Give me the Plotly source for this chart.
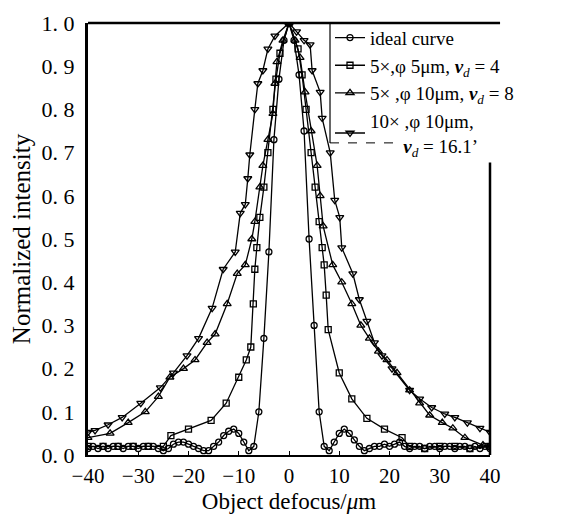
import plotly.graph_objects as go

# ideal curve (circles)
x_ideal = list(range(-40, 41))
y_ideal = [0.015, 0.02, 0.015, 0.02, 0.015, 0.02, 0.02, 0.015, 0.02, 0.02,
           0.015, 0.02, 0.02, 0.02, 0.015, 0.01, 0.015, 0.025, 0.03, 0.03,
           0.025, 0.02, 0.015, 0.01, 0.01, 0.02, 0.03, 0.045, 0.055, 0.06,
           0.05, 0.03, 0.01, 0.02, 0.10, 0.27, 0.47, 0.73, 0.87, 0.96,
           1.0,
           0.96, 0.88, 0.75, 0.50, 0.30, 0.10, 0.02, 0.01, 0.03, 0.05,
           0.06, 0.05, 0.035, 0.02, 0.01, 0.015, 0.02, 0.02, 0.025, 0.02,
           0.025, 0.03, 0.02, 0.015, 0.02, 0.02, 0.015, 0.02, 0.02, 0.015,
           0.02, 0.02, 0.015, 0.02, 0.02, 0.015, 0.02, 0.015, 0.02, 0.015]

# 5x, phi 5um, vd=4 (squares)
x_sq = [-40, -37, -34, -31, -28, -25, -23.5, -20, -15.5, -12.5, -10, -8.5, -7.6, -7.1, -6.8,
        -6.4, -5.8, -5, -4.2, -3.2, -2.6, -1.8, 0,
        1.8, 2.6, 3.4, 4.4, 5.2, 6, 6.6, 7, 7.4, 7.8, 10, 12.5, 15.5, 19, 22.5, 24, 27,
        30, 33, 36, 40]
y_sq = [0.02, 0.02, 0.02, 0.02, 0.02, 0.02, 0.045, 0.06, 0.08, 0.12, 0.18, 0.22, 0.25, 0.35, 0.43,
        0.48, 0.55, 0.62, 0.70, 0.80, 0.87, 0.93, 1.0,
        0.94, 0.88, 0.80, 0.70, 0.62, 0.54, 0.48, 0.44, 0.37, 0.29, 0.19, 0.13, 0.085, 0.06, 0.04, 0.02, 0.015,
        0.02, 0.02, 0.015, 0.02]

# 5x, phi 10um, vd=8 (triangles up)
x_tu = [-40, -35.6, -32, -28.6, -26, -23.7, -21, -18.7, -16.3, -14.7, -12.3, -10.3, -8.7, -7.4,
        -6.8, -5.8, -5.2, -4.2, -3.2, -2.8, -2.4, -1.2, 0,
        1.2, 2.2, 3.2, 4.4, 5.6, 6.2, 6.8, 8.7, 10.5, 12.5, 14.3, 16, 17.8, 19.5, 21.5, 24, 26,
        28, 30.5, 32.6, 35, 38.6, 40]
y_tu = [0.04, 0.05, 0.075, 0.10, 0.135, 0.18, 0.20, 0.22, 0.26, 0.28, 0.35, 0.42, 0.44, 0.50,
        0.54, 0.62, 0.67, 0.73, 0.79, 0.86, 0.91, 0.96, 1.0,
        0.96, 0.92, 0.84, 0.75, 0.67, 0.60, 0.53, 0.44, 0.40, 0.35, 0.30, 0.27, 0.24, 0.22, 0.19, 0.15, 0.12,
        0.092, 0.075, 0.062, 0.04, 0.023, 0.02]

# 10x, phi 10um, vd=16.1 (triangles down)
x_td = [-40, -38.6, -36, -33.2, -29.5, -25.6, -23, -20.3, -18, -15.3, -13.1, -10.7, -9.7, -8.7,
        -8.2, -7.8, -6.8, -6.2, -5.2, -4.2, -2.8, 0,
        1.5, 3, 4.2, 4.6, 6.2, 6.6, 8.2, 9.1, 10.1, 10.5, 12.7, 14, 15.5, 17, 18.5, 20.5, 24, 26,
        28.4, 31, 33, 35.5, 38, 40]
y_td = [0.053, 0.057, 0.07, 0.087, 0.12, 0.156, 0.19, 0.23, 0.27, 0.34, 0.43, 0.47, 0.56, 0.58,
        0.64, 0.695, 0.80, 0.86, 0.89, 0.94, 0.97, 1.0,
        0.98, 0.96, 0.95, 0.89, 0.84, 0.78, 0.70, 0.59, 0.55, 0.48, 0.42, 0.36, 0.31, 0.26, 0.23, 0.20, 0.15, 0.13,
        0.11, 0.095, 0.087, 0.075, 0.062, 0.053]

x_ticks = [-40, -30, -20, -10, 0, 10, 20, 30, 40]
x_labels = ['\u221240', '\u221230', '\u221220', '\u221210', '0', '10', '20', '30', '40']
y_ticks = [0.0, 0.1, 0.2, 0.3, 0.4, 0.5, 0.6, 0.7, 0.8, 0.9, 1.0]
y_labels = ['0. 0', '0. 1', '0. 2', '0. 3', '0. 4', '0. 5', '0. 6', '0. 7', '0. 8', '0. 9', '1. 0']

vd = '<b><i>v</i></b><sub><i>d</i></sub>'
names = ['ideal curve',
         '5\u00d7,\u03c6 5\u03bcm, ' + vd + ' = 4',
         '5\u00d7 ,\u03c6 10\u03bcm, ' + vd + ' = 8',
         '10\u00d7 ,\u03c6 10\u03bcm,<br>\u00a0\u00a0\u00a0\u00a0\u00a0\u00a0\u00a0' + vd + ' = 16.1\u2019']

serif = 'Liberation Serif, Times New Roman, serif'

fig = go.Figure()
series = [(x_ideal, y_ideal, 'circle-open', 6),
          (x_sq, y_sq, 'square-open', 6),
          (x_tu, y_tu, 'triangle-up-open', 7),
          (x_td, y_td, 'triangle-down-open', 7)]
for (xs, ys, sym, sz), nm in zip(series, names):
    fig.add_trace(go.Scatter(x=xs, y=ys, name=nm, mode='lines+markers',
                             line=dict(color='black', width=1.3),
                             marker=dict(symbol=sym, size=sz, color='black',
                                         line=dict(width=1.3, color='black'))))

# top border, partial right border, legend frame
fig.add_shape(type='line', xref='paper', yref='paper', x0=0, x1=1.025, y0=1, y1=1,
              line=dict(color='black', width=2.5))
fig.add_shape(type='line', xref='paper', yref='paper', x0=1, x1=1, y0=0, y1=0.677,
              line=dict(color='black', width=2.5))
fig.add_shape(type='line', xref='paper', yref='paper', x0=0.602, x1=0.602, y0=1, y1=0.7225,
              line=dict(color='black', width=1.2))
fig.add_shape(type='line', xref='paper', yref='paper', x0=0.602, x1=0.764, y0=0.7225, y1=0.7225,
              line=dict(color='black', width=1, dash='dash'))

# page body adds an 8px offset at top-left, so the figure is 8px smaller than the window
fig.update_layout(
    width=576, height=508,
    margin=dict(l=80, r=94, t=11, b=61),
    plot_bgcolor='white', paper_bgcolor='white',
    font=dict(family=serif, color='black', size=18),
    showlegend=True,
    legend=dict(x=0.602, y=1.01, xanchor='left', yanchor='top',
                bgcolor='rgba(0,0,0,0)', borderwidth=0,
                font=dict(family=serif, size=19, color='black'),
                tracegroupgap=0, itemwidth=30),
)
fig.update_xaxes(range=[-40, 40], tickvals=x_ticks, ticktext=x_labels, automargin=False,
                 showgrid=False, zeroline=False, showline=True, linecolor='black', linewidth=1.5,
                 ticks='inside', ticklen=4, tickcolor='black', ticklabelstandoff=1,
                 tickfont=dict(family=serif, size=21),
                 title=dict(text='Object defocus/<i>\u03bc</i>m', font=dict(family=serif, size=23), standoff=6))
fig.update_yaxes(range=[0, 1.0], tickvals=y_ticks, ticktext=y_labels, automargin=False,
                 showgrid=False, zeroline=False, showline=True, linecolor='black', linewidth=3,
                 ticks='', ticklabelstandoff=6,
                 tickfont=dict(family=serif, size=22),
                 title=dict(text='Normalized intensity', font=dict(family=serif, size=25), standoff=8))

fig.write_html("out.html")
